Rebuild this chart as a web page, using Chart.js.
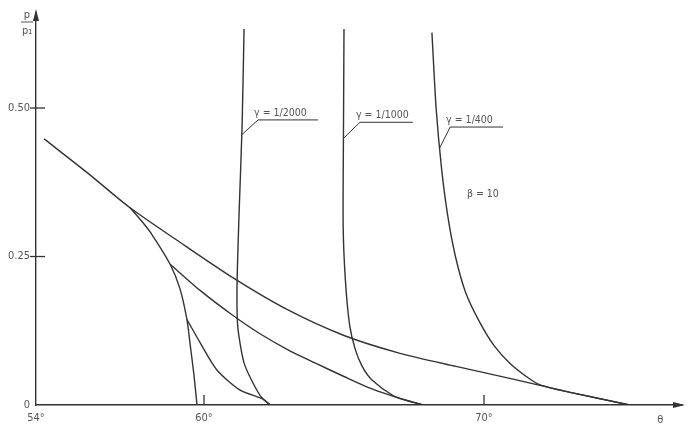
<!DOCTYPE html>
<html>
<head>
<meta charset="utf-8">
<script src="https://cdn.jsdelivr.net/npm/chart.js@4"></script>
<style>
html,body{margin:0;padding:0;background:#fff;}
#wrap{width:694px;height:446px;}
</style>
</head>
<body>
<div id="wrap"><canvas id="c" width="694" height="446"></canvas></div>
<script>
// ---- data (theta in degrees, p/p1) ----
const envTheta = [54.29, 55.86, 57.36, 59.14, 61.04, 63.0, 65.0, 67.0, 69.0, 71.0, 73.0, 75.21];
const envP     = [0.448, 0.390, 0.332, 0.274, 0.214, 0.160, 0.117, 0.087, 0.065, 0.044, 0.022, 0.0];

const midTheta = [58.79, 59.86, 61.0, 62.0, 63.0, 64.0, 65.0, 66.0, 67.0, 67.82];
const midP     = [0.237, 0.193, 0.152, 0.120, 0.093, 0.070, 0.048, 0.027, 0.011, 0.0];

const steepTheta = [57.36, 57.8, 58.14, 58.79, 59.14, 59.39, 59.5, 59.64, 59.75];
const steepP     = [0.332, 0.308, 0.287, 0.237, 0.196, 0.144, 0.104, 0.051, 0.0];

const lowTheta = [59.39, 59.86, 60.46, 61.29, 62.11, 62.36];
const lowP     = [0.144, 0.105, 0.059, 0.025, 0.010, 0.0];

const g2000Theta = [61.43, 61.36, 61.25, 61.18, 61.2, 61.32, 61.45, 61.75, 62.05, 62.36];
const g2000P     = [0.633, 0.469, 0.319, 0.201, 0.135, 0.095, 0.068, 0.037, 0.013, 0.0];

const g1000Theta = [65.0, 64.98, 64.97, 65.05, 65.2, 65.4, 65.65, 66.0, 66.75, 67.3, 67.85];
const g1000P     = [0.633, 0.450, 0.300, 0.210, 0.135, 0.094, 0.065, 0.042, 0.016, 0.007, 0.0];

const g400Theta = [68.14, 68.29, 68.48, 68.70, 68.98, 69.34, 69.84, 70.36, 70.93, 71.6, 72.0, 73.0, 75.21];
const g400P     = [0.627, 0.500, 0.400, 0.320, 0.250, 0.190, 0.140, 0.100, 0.070, 0.045, 0.034, 0.022, 0.0];

const xTickValues = [54, 60, 70];
const xTickLabels = ['54°', '60°', '70°'];
const yTickValues = [0, 0.25, 0.5];
const yTickLabels = ['0', '0.25', '0.50'];

const curveLabels = ['γ = 1/2000', 'γ = 1/1000', 'γ = 1/400'];
const betaLabel = 'β = 10';

// ---- styling ----
const INK = '#333';
const TXT = '#555';
const FONT = '"DejaVu Sans Condensed", "Liberation Sans Narrow", "DejaVu Sans", sans-serif';

function pts(t, p) { return t.map((v, i) => ({ x: v, y: p[i] })); }
function ds(label, t, p) {
  return { label, data: pts(t, p), borderColor: INK, borderWidth: 1.4, pointRadius: 0, tension: 0.25, fill: false };
}

const deco = {
  id: 'deco',
  afterDraw(chart) {
    const { ctx, chartArea: a, scales: { x, y } } = chart;
    const X = v => x.getPixelForValue(v), Y = v => y.getPixelForValue(v);
    ctx.save();
    ctx.strokeStyle = INK; ctx.fillStyle = INK; ctx.lineWidth = 1.3;
    // y ticks
    yTickValues.forEach(v => { if (v === 0) return; ctx.beginPath(); ctx.moveTo(a.left - 6, Y(v)); ctx.lineTo(a.left + 9, Y(v)); ctx.stroke(); });
    // x ticks (inward)
    xTickValues.forEach(v => { if (v === 54) return; ctx.beginPath(); ctx.moveTo(X(v), a.bottom); ctx.lineTo(X(v), a.bottom - 10); ctx.stroke(); });
    // arrows
    ctx.beginPath(); ctx.moveTo(a.left, a.top - 4); ctx.lineTo(a.left - 3, a.top + 8); ctx.lineTo(a.left + 3, a.top + 8); ctx.closePath(); ctx.fill();
    ctx.beginPath(); ctx.moveTo(a.right + 5, a.bottom); ctx.lineTo(a.right - 7, a.bottom - 3); ctx.lineTo(a.right - 7, a.bottom + 3); ctx.closePath(); ctx.fill();
    ctx.beginPath(); ctx.moveTo(a.right, a.bottom); ctx.lineTo(a.right + 3, a.bottom); ctx.stroke();

    ctx.fillStyle = TXT; ctx.strokeStyle = TXT; ctx.lineWidth = 1;
    ctx.font = '11px ' + FONT;
    ctx.textAlign = 'center'; ctx.textBaseline = 'alphabetic';
    // y title p / p1
    const tx = a.left - 9;
    ctx.fillText('p', tx, a.top + 5);
    ctx.beginPath(); ctx.moveTo(tx - 6, a.top + 9); ctx.lineTo(tx + 6, a.top + 9); ctx.stroke();
    ctx.fillText('p₁', tx, a.top + 21);
    // x title
    ctx.fillText('θ', X(76.3), a.bottom + 18);

    // curve labels with underline and leader
    const notes = [
      { from: [61.35, 0.455], u0: 61.93, u1: 64.07, uy: 0.480 },
      { from: [64.98, 0.449], u0: 65.57, u1: 67.46, uy: 0.476 },
      { from: [68.42, 0.433], u0: 68.79, u1: 70.68, uy: 0.468 }
    ];
    notes.forEach((n, i) => {
      ctx.strokeStyle = INK; ctx.lineWidth = 1;
      ctx.beginPath();
      ctx.moveTo(X(n.from[0]), Y(n.from[1]));
      ctx.lineTo(X(n.u0), Y(n.uy));
      ctx.lineTo(X(n.u1), Y(n.uy));
      ctx.stroke();
      ctx.textAlign = 'left';
      ctx.font = '10.5px ' + FONT;
      ctx.fillText(curveLabels[i], X(n.u0) - 4, Y(n.uy) - 4);
    });
    ctx.textAlign = 'center';
    ctx.font = '10.5px ' + FONT;
    ctx.fillText(betaLabel, X(69.96), Y(0.357) + 4);
    ctx.restore();
  }
};

new Chart(document.getElementById('c'), {
  type: 'line',
  data: {
    datasets: [
      ds('envelope', envTheta, envP),
      ds('middle', midTheta, midP),
      ds('steep', steepTheta, steepP),
      ds('low', lowTheta, lowP),
      ds('γ=1/2000', g2000Theta, g2000P),
      ds('γ=1/1000', g1000Theta, g1000P),
      ds('γ=1/400', g400Theta, g400P)
    ]
  },
  options: {
    responsive: false,
    animation: false,
    layout: { padding: { top: 13, right: 14, left: 0, bottom: 0 } },
    plugins: { legend: { display: false }, tooltip: { enabled: false } },
    scales: {
      x: {
        type: 'linear', min: 54, max: 77,
        afterBuildTicks: s => { s.ticks = xTickValues.map(v => ({ value: v })); },
        afterFit: s => { s.height = 41; },
        grid: { display: false, drawTicks: false },
        border: { display: true, color: INK, width: 1.4 },
        ticks: { padding: 7, color: TXT, font: { family: FONT, size: 11 }, maxRotation: 0,
          callback: v => xTickLabels[xTickValues.indexOf(v)] }
      },
      y: {
        type: 'linear', min: 0, max: 0.66,
        afterBuildTicks: s => { s.ticks = yTickValues.map(v => ({ value: v })); },
        afterFit: s => { s.width = 36; },
        grid: { display: false, drawTicks: false },
        border: { display: true, color: INK, width: 1.4 },
        ticks: { padding: 6, color: TXT, font: { family: FONT, size: 11 },
          callback: v => yTickLabels[yTickValues.indexOf(v)] }
      }
    }
  },
  plugins: [deco]
});
</script>
</body>
</html>
